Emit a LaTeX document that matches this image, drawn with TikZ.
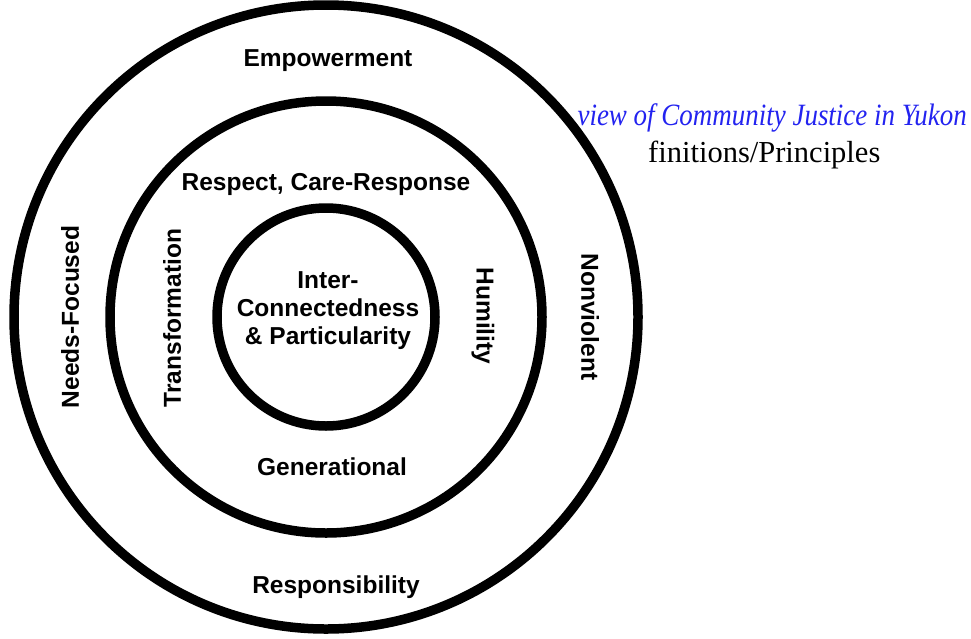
\documentclass[tikz,border=0pt]{standalone}
\usepackage{fontspec}
\setmainfont{Liberation Serif}
\setsansfont{Liberation Sans}
\definecolor{titleblue}{RGB}{35,35,240}

\begin{document}
\begin{tikzpicture}[x=1pt,y=-1pt,
  ring/.style={circle,draw,line width=9.5pt,inner sep=0pt},
  ringtext/.style={font=\sffamily\bfseries\fontsize{24.5}{28}\selectfont,inner sep=0pt,align=center}]
\useasboundingbox[fill=white] (0,0) rectangle (971,638);
% heading, cut off on the left
\node[anchor=base east,text=titleblue,inner sep=0pt,
  font=\itshape\fontsize{31}{34}\selectfont] (title) at (967,125)
  {\scalebox{0.87}[1]{view of Community Justice in Yukon}};
\node[anchor=base west,inner sep=0pt,
  font=\fontsize{30.5}{33}\selectfont] (subtitle) at (648,162)
  {finitions/Principles};
% rings
\node[ring,minimum size=624pt] (outer) at (326,317) {};
\node[ring,minimum size=432pt] (middle) at (326,317) {};
\node[ring,minimum size=218pt] (inner) at (326,317) {};
% outer ring
\node[ringtext] (empowerment) at (328,61) {Empowerment};
\node[ringtext] (responsibility) at (336,587) {Responsibility};
\node[ringtext,rotate=90] (needs) at (70,317) {Needs-Focused};
\node[ringtext,rotate=-90] (nonviolent) at (590,317) {Nonviolent};
% middle ring
\node[ringtext] (respect) at (326,184) {Respect, Care-Response};
\node[ringtext] (generational) at (332,467) {Generational};
\node[ringtext,rotate=90] (transformation) at (172,318) {Transformation};
\node[ringtext,rotate=-90] (humility) at (483,316) {Humility};
% centre
\node[ringtext] (centre) at (328,311) {Inter-\\Connectedness\\\& Particularity};
\end{tikzpicture}
\end{document}
